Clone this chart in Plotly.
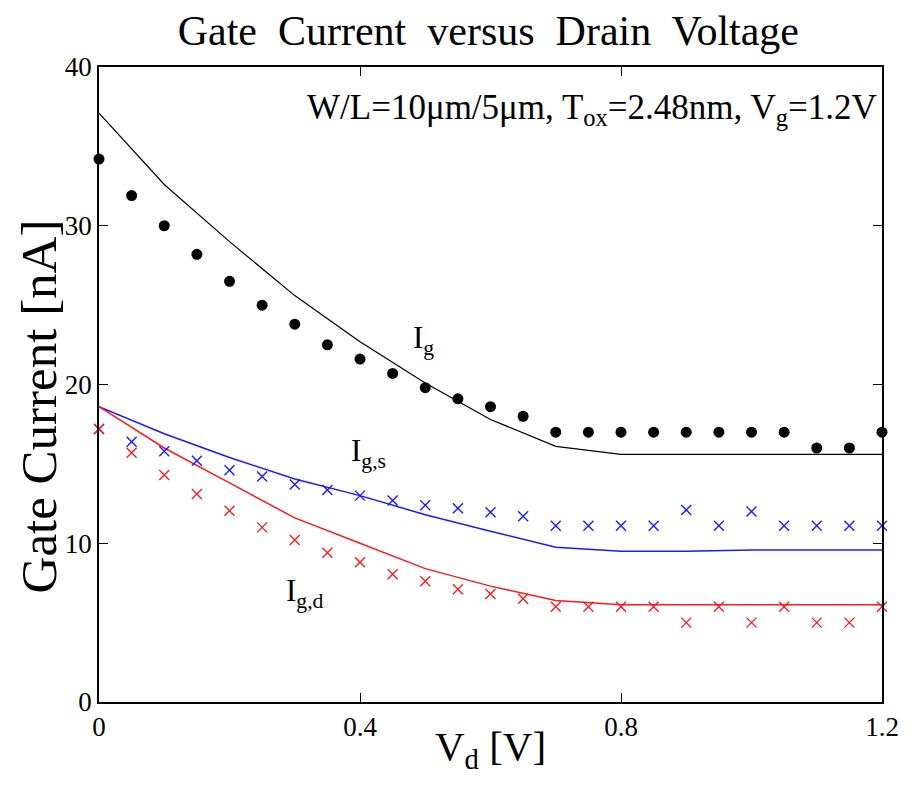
import plotly.graph_objects as go

# measured points, Vd step 0.05 V
vd_meas = [round(0.05 * i, 2) for i in range(25)]
ig_meas = [34.2, 31.9, 30.0, 28.2, 26.5, 25.0, 23.8, 22.5, 21.6, 20.7, 19.8, 19.1,
           18.6, 18.0, 17.0, 17.0, 17.0, 17.0, 17.0, 17.0, 17.0, 17.0, 16.0, 16.0, 17.0]
igs_meas = [17.2, 16.4, 15.8, 15.2, 14.6, 14.2, 13.7, 13.35, 13.0, 12.7, 12.4, 12.2,
            11.95, 11.7, 11.1, 11.1, 11.1, 11.1, 12.1, 11.1, 12.0, 11.1, 11.1, 11.1, 11.1]
igd_meas = [17.2, 15.7, 14.3, 13.1, 12.05, 11.0, 10.2, 9.4, 8.8, 8.05, 7.6, 7.1,
            6.8, 6.5, 6.0, 6.0, 6.0, 6.0, 5.0, 6.0, 5.0, 6.0, 5.0, 5.0, 6.0]

# model curves, Vd step 0.1 V
vd_model = [0.0, 0.1, 0.2, 0.3, 0.4, 0.5, 0.6, 0.7, 0.8, 0.9, 1.0, 1.1, 1.2]
ig_model = [37.1, 32.6, 29.0, 25.6, 22.7, 20.1, 17.8, 16.1, 15.6, 15.6, 15.6, 15.6, 15.6]
igs_model = [18.6, 16.9, 15.4, 14.05, 13.0, 11.8, 10.75, 9.75, 9.5, 9.5, 9.57, 9.57, 9.57]
igd_model = [18.6, 16.0, 13.8, 11.6, 10.0, 8.4, 7.3, 6.4, 6.12, 6.12, 6.12, 6.12, 6.12]

SERIF = "Liberation Serif, Times New Roman, serif"

fig = go.Figure()

# model lines
fig.add_trace(go.Scatter(x=vd_model, y=ig_model, mode="lines",
                         line=dict(color="black", width=1.2), showlegend=False))
fig.add_trace(go.Scatter(x=vd_model, y=igs_model, mode="lines",
                         line=dict(color="#1a1aff", width=1.5), showlegend=False))
fig.add_trace(go.Scatter(x=vd_model, y=igd_model, mode="lines",
                         line=dict(color="#ff1a1a", width=1.5), showlegend=False))

# measurement markers
fig.add_trace(go.Scatter(x=vd_meas, y=ig_meas, mode="markers",
                         marker=dict(symbol="circle", size=11, color="black"),
                         showlegend=False, cliponaxis=False))
fig.add_trace(go.Scatter(x=vd_meas, y=igs_meas, mode="markers",
                         marker=dict(symbol="x-thin", size=10, line=dict(color="#1a1aff", width=1.4)),
                         showlegend=False, cliponaxis=False))
fig.add_trace(go.Scatter(x=vd_meas, y=igd_meas, mode="markers",
                         marker=dict(symbol="x-thin", size=10, line=dict(color="#ff1a1a", width=1.4)),
                         showlegend=False, cliponaxis=False))

# curve labels
labels = [
    (0.497, 22.8, "I<sub>g</sub>"),
    (0.413, 15.7, "I<sub>g,s</sub>"),
    (0.315, 6.85, "I<sub>g,d</sub>"),
]
for x, y, t in labels:
    fig.add_annotation(x=x, y=y, text=t, showarrow=False,
                       font=dict(family=SERIF, size=31, color="black"))

fig.add_annotation(x=1.195, y=37.3, xanchor="right", text=
                   "W/L=10μm/5μm, T<sub>ox</sub>=2.48nm, V<sub>g</sub>=1.2V",
                   showarrow=False, font=dict(family=SERIF, size=35, color="black"))

# axis titles placed as annotations so they sit like the original
fig.add_annotation(xref="paper", yref="paper", x=0.5, y=-0.074, yanchor="middle",
                   text="V<sub>d</sub> [V]", showarrow=False,
                   font=dict(family=SERIF, size=41, color="black"))
fig.add_annotation(xref="paper", yref="paper", x=-0.077, y=0.465, xanchor="center",
                   textangle=-90, text="Gate Current [nA]", showarrow=False,
                   font=dict(family=SERIF, size=51, color="black"))

axis_common = dict(showline=True, linecolor="black", linewidth=1.5, mirror="ticks",
                   ticks="inside", ticklen=9, tickcolor="black", tickwidth=1.2,
                   showgrid=False, zeroline=False,
                   tickfont=dict(family=SERIF, size=27, color="black"))

fig.update_layout(
    width=922, height=785,
    paper_bgcolor="white", plot_bgcolor="white",
    margin=dict(l=91, r=48, t=59, b=91),
    title=dict(text="Gate  Current  versus  Drain  Voltage", x=0.521, xanchor="center",
               y=0.972, yanchor="middle",
               font=dict(family=SERIF, size=42, color="black")),
    xaxis=dict(range=[0, 1.2], tickvals=[0, 0.4, 0.8, 1.2], ticktext=["0", "0.4", "0.8", "1.2"],
               **axis_common),
    yaxis=dict(range=[0, 40], tickvals=[0, 10, 20, 30, 40], **axis_common),
)

fig.write_html("out.html")
